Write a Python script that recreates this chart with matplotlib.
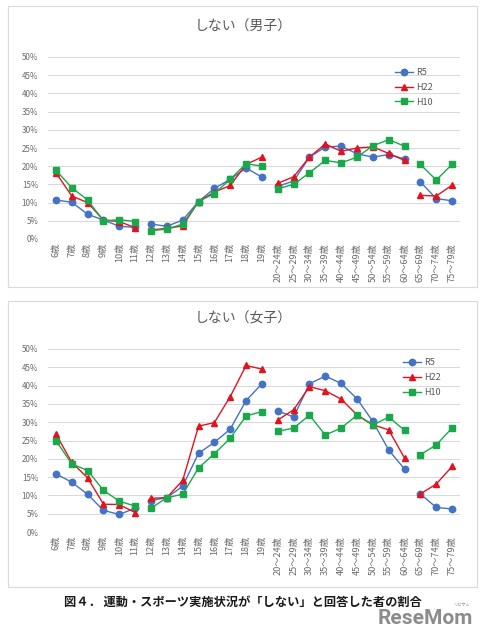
import matplotlib
matplotlib.use('Agg')
import matplotlib.pyplot as plt
from matplotlib.patches import Rectangle
from matplotlib.ticker import PercentFormatter, MultipleLocator

plt.rcParams['font.family'] = ['Noto Sans CJK JP', 'DejaVu Sans']

# age categories on the x axis
ages = ['6歳', '7歳', '8歳', '9歳', '10歳', '11歳', '12歳', '13歳', '14歳',
        '15歳', '16歳', '17歳', '18歳', '19歳',
        '20～24歳', '25～29歳', '30～34歳', '35～39歳', '40～44歳', '45～49歳',
        '50～54歳', '55～59歳', '60～64歳', '65～69歳', '70～74歳', '75～79歳']

# line breaks between age groups (start, end index)
groups = [(0, 6), (6, 14), (14, 23), (23, 26)]

# share answering "しない" (%) - boys / men
male_r5 = [10.7, 10.1, 6.8, 5.2, 3.5, 3.2, 4.1, 3.5, 5.2, 10.3, 13.9, 16.4, 19.5, 17.0,
           14.5, 15.9, 22.5, 25.3, 25.5, 23.4, 22.5, 23.2, 22.0, 15.7, 11.1, 10.5]
male_h22 = [18.2, 11.8, 10.0, 5.2, 4.8, 3.1, 2.5, 2.9, 3.6, 10.3, 12.9, 14.7, 20.5, 22.5,
            15.3, 17.1, 22.5, 26.1, 24.1, 25.0, 25.3, 23.5, 21.6, 12.0, 11.8, 14.8]
male_h10 = [18.9, 14.1, 10.7, 5.0, 5.3, 4.8, 2.3, 2.7, 4.1, 10.3, 12.5, 16.4, 20.7, 20.0,
            13.8, 15.0, 18.2, 21.6, 20.9, 22.5, 25.6, 27.3, 25.5, 20.5, 16.2, 20.5]

# girls / women
female_r5 = [15.9, 13.6, 10.3, 5.9, 4.8, 6.5, 8.6, 9.4, 12.5, 21.5, 24.5, 28.1, 35.9, 40.5,
             33.1, 31.4, 40.5, 42.6, 40.6, 36.4, 30.2, 22.4, 17.2, 10.4, 6.7, 6.3]
female_h22 = [26.8, 19.0, 14.8, 7.6, 7.5, 5.3, 9.2, 9.4, 14.1, 28.9, 29.9, 37.0, 45.5, 44.5,
              30.6, 33.4, 39.7, 38.6, 36.3, 32.0, 29.3, 27.9, 20.2, 10.4, 13.1, 17.9]
female_h10 = [25.0, 18.6, 16.8, 11.4, 8.4, 7.1, 6.5, 9.4, 10.3, 17.5, 21.4, 25.6, 31.7, 32.9,
              27.5, 28.4, 31.9, 26.5, 28.4, 31.9, 29.2, 31.4, 27.8, 21.1, 23.8, 28.4]

series_names = ['R5', 'H22', 'H10']
colors = ['#4472C4', '#E0141E', '#1BA84A']
markers = ['o', '^', 's']
msizes = [4.6, 5.0, 4.7]

TXT = '#595959'
GRID = '#D9D9D9'

fig = plt.figure(figsize=(4.87, 6.4), dpi=100)
W, H = 487, 640


def fx(px):
    return px / W


def fy(py):
    return 1 - py / H


def draw_panel(top, bottom, ax_top, ax_bottom, title, title_y, data, leg_anchor):
    # panel frame, kept behind the axes
    fig.patches.append(Rectangle((fx(8), fy(bottom)), fx(477 - 8), (bottom - top) / H,
                                 transform=fig.transFigure, facecolor='none',
                                 edgecolor=GRID, linewidth=0.8, zorder=-1))
    ax = fig.add_axes([fx(48), fy(ax_bottom), fx(412), (ax_bottom - ax_top) / H])
    ax.set_facecolor('none')
    x = list(range(len(ages)))
    for name, vals, c, m, ms in zip(series_names, data, colors, markers, msizes):
        for k, (a, b) in enumerate(groups):
            ax.plot(x[a:b], vals[a:b], color=c, marker=m, markersize=ms,
                    linewidth=1.0, label=name if k == 0 else None, zorder=3)
    ax.set_xlim(-0.5, len(ages) - 0.5)
    ax.set_ylim(0, 50)
    ax.yaxis.set_major_locator(MultipleLocator(5))
    ax.yaxis.set_major_formatter(PercentFormatter(decimals=0))
    ax.grid(axis='y', color=GRID, linewidth=0.75, zorder=0)
    ax.set_axisbelow(True)
    for s in ax.spines.values():
        s.set_visible(False)
    ax.set_xticks(x)
    ax.set_xticklabels(ages, rotation=90, fontsize=6.6, color='#6b6b6b')
    ax.tick_params(axis='x', length=0, pad=3)
    ax.tick_params(axis='y', length=0, pad=7, labelsize=5.8, labelcolor='#6b6b6b')
    leg = ax.legend(loc='upper left', bbox_to_anchor=leg_anchor, frameon=False,
                    fontsize=6.5, handlelength=2.0, handletextpad=0.3,
                    labelspacing=0.65, borderpad=0, borderaxespad=0)
    for t in leg.get_texts():
        t.set_color(TXT)
    fig.text(fx(243), fy(title_y), title, ha='center', va='center',
             fontsize=10, color=TXT)
    return ax


draw_panel(6, 287, 57, 239, 'しない（男子）', 27,
           [male_r5, male_h22, male_h10], (0.842, 0.94))
draw_panel(301, 587, 349, 532, 'しない（女子）', 319,
           [female_r5, female_h22, female_h10], (0.862, 0.95))

fig.text(fx(243), fy(602), '図４． 運動・スポーツ実施状況が「しない」と回答した者の割合',
         ha='center', va='center', fontsize=8.8, fontweight='bold', color='#1a1a1a')
fig.text(fx(473), fy(619), 'ReseMom', ha='right', va='center', fontsize=15,
         fontweight='bold', color='#8c8c8c', family=['Roboto', 'DejaVu Sans'])
fig.text(fx(461), fy(605), 'リセマム', ha='center', va='center', fontsize=3,
         color='#8c8c8c')

fig.savefig('out.png', dpi=100, facecolor='white')
